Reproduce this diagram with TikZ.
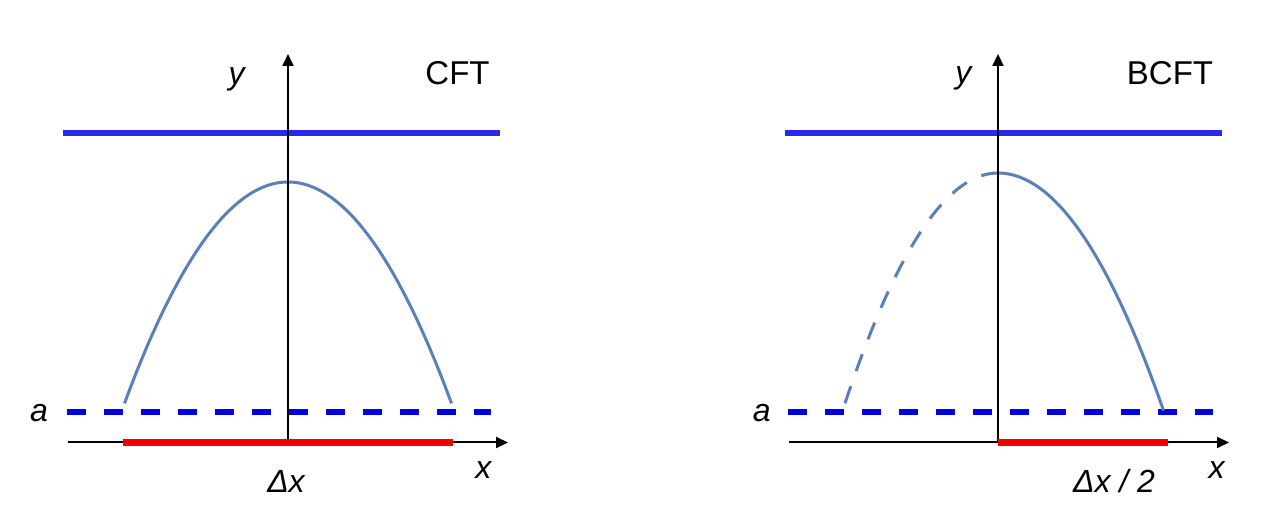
\documentclass[tikz,border=0pt]{standalone}
\usepackage{fontspec}
\setmainfont{Liberation Sans}
\usetikzlibrary{arrows.meta}
\definecolor{lineblue}{RGB}{40,40,240}
\definecolor{dashblue}{RGB}{0,0,225}
\definecolor{curveblue}{RGB}{90,127,185}
\definecolor{segred}{RGB}{240,0,0}
\begin{document}
\begin{tikzpicture}[x=1pt,y=-1pt,
  axis/.style={line width=2pt, black, -{Triangle[length=12pt,width=11pt]}},
  cutoff/.style={line width=6pt, lineblue},
  reg/.style={line width=6pt, dashblue, dash pattern=on 18.5pt off 18.5pt},
  interval/.style={line width=6.5pt, segred},
  geo/.style={line width=3pt, curveblue},
  geodash/.style={geo, dash pattern=on 18pt off 16pt},
  lab/.style={inner sep=0pt, font=\fontsize{32}{38}\selectfont\itshape},
  ttl/.style={inner sep=0pt, font=\fontsize{33}{40}\selectfont}]
\useasboundingbox (0,0) rectangle (1262,518);

% ---------------- left panel (CFT) ----------------
\coordinate (Lcl) at (63,132.7);   \coordinate (Lcr) at (500,132.7);
\coordinate (Lal) at (67,412);     \coordinate (Lar) at (491,412);
\coordinate (Lxs) at (68,442.5);   \coordinate (Lxe) at (508,442.5);
\coordinate (Lo)  at (288,442.5);  \coordinate (Lyt) at (288,54);
\coordinate (Lrs) at (123,442.5);  \coordinate (Lre) at (453,442.5);
\coordinate (Lg0) at (124.5,403.3);
\coordinate (Lg1) at (233.5,108.2);
\coordinate (Lg2) at (342.5,108.2);
\coordinate (Lg3) at (451.5,403.3);

\draw[cutoff] (Lcl) -- (Lcr);
\draw[reg] (Lal) -- (Lar);
\draw[geo] (Lg0) .. controls (Lg1) and (Lg2) .. (Lg3);
\draw[axis] (Lxs) -- (Lxe);
\draw[axis] (Lo) -- (Lyt);
\draw[interval] (Lrs) -- (Lre);

\node[lab] (Ly) at (236.7,79) {y};
\node[ttl] (Lt) at (457.5,73) {CFT};
\node[lab] (La) at (39,413) {a};
\node[lab] (Ldx) at (286,481) {Δx};
\node[lab] (Lx) at (483.3,470) {x};

% ---------------- right panel (BCFT) ----------------
\coordinate (Rcl) at (785,132.7);  \coordinate (Rcr) at (1222,132.7);
\coordinate (Ral) at (788,412);    \coordinate (Rar) at (1213,412);
\coordinate (Rxs) at (789,442.5);  \coordinate (Rxe) at (1229,442.5);
\coordinate (Ro)  at (998,442.5);  \coordinate (Ryt) at (998,54);
\coordinate (Rrs) at (998,442.5);  \coordinate (Rre) at (1167.5,442.5);
\coordinate (Rp)  at (998,173);
\coordinate (Rs1) at (1053.2,173);
\coordinate (Rs2) at (1108.3,252.2);
\coordinate (Rs3) at (1163.5,410.5);
\coordinate (Rd0) at (845,403.3);
\coordinate (Rd1) at (896,249.8);
\coordinate (Rd2) at (947,173);

\draw[cutoff] (Rcl) -- (Rcr);
\draw[reg] (Ral) -- (Rar);
\draw[geodash] (Rd0) .. controls (Rd1) and (Rd2) .. (Rp);
\draw[geo] (Rp) .. controls (Rs1) and (Rs2) .. (Rs3);
\draw[axis] (Rxs) -- (Rxe);
\draw[axis] (Ro) -- (Ryt);
\draw[interval] (Rrs) -- (Rre);

\node[lab] (Ry) at (963.3,78) {y};
\node[ttl] (Rt) at (1170,73) {BCFT};
\node[lab] (Ra) at (761.7,413) {a};
\node[lab] (Rdx) at (1114,481) {Δx / 2};
\node[lab] (Rx) at (1216.7,470) {x};
\end{tikzpicture}
\end{document}
